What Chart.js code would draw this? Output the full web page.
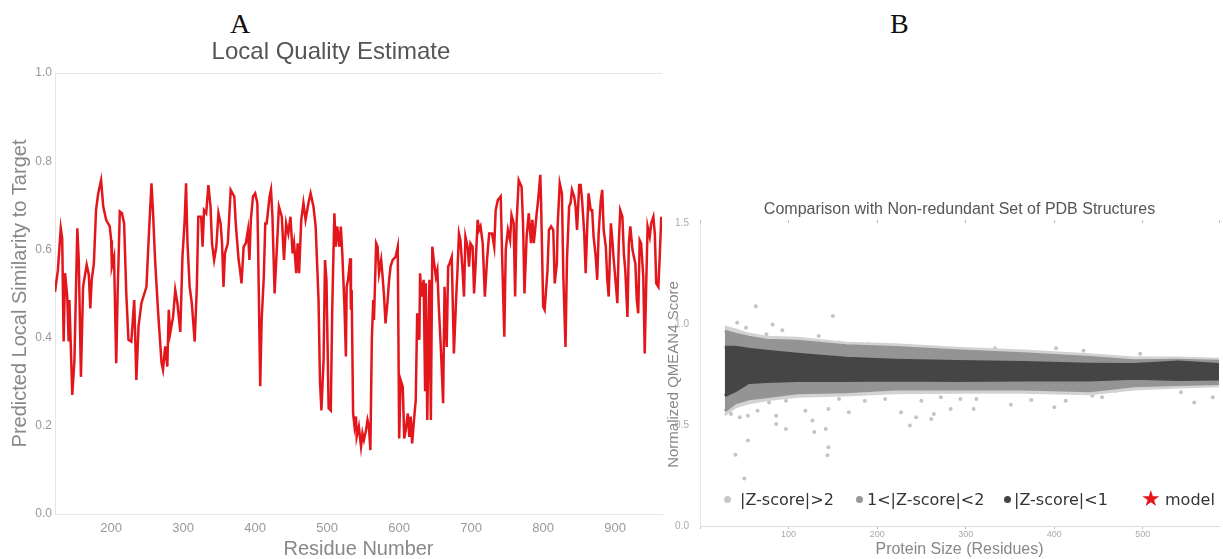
<!DOCTYPE html>
<html>
<head>
<meta charset="utf-8">
<script src="https://cdn.jsdelivr.net/npm/chart.js@4.4.1/dist/chart.umd.min.js"></script>
<style>
body{margin:0;background:#fff;width:1223px;height:559px;overflow:hidden;position:relative}
#chartA{position:absolute;left:0;top:0}
#chartB{position:absolute;left:665px;top:190px}
.panel{position:absolute;top:10px;font-family:"Liberation Serif","Times New Roman",serif;font-size:28px;line-height:28px;color:#111}
.leg{position:absolute;top:490px;font-family:"DejaVu Sans",sans-serif;font-size:16px;line-height:20px;color:#333;white-space:nowrap}
.dot{position:absolute;top:496px;width:7px;height:7px;border-radius:50%}
</style>
</head>
<body>
<div class="panel" style="left:230px">A</div>
<div class="panel" style="left:890px">B</div>
<canvas id="chartA" width="670" height="559"></canvas>
<canvas id="chartB" width="558" height="369"></canvas>

<div class="dot" style="left:724px;background:#c8c8c8"></div>
<div class="leg" style="left:740px">|Z-score|&gt;2</div>
<div class="dot" style="left:856px;background:#999"></div>
<div class="leg" style="left:867px">1&lt;|Z-score|&lt;2</div>
<div class="dot" style="left:1004px;background:#444"></div>
<div class="leg" style="left:1014px">|Z-score|&lt;1</div>
<div class="leg" style="left:1141px;top:487px;color:#e8141a;font-size:22px;line-height:24px">★</div>
<div class="leg" style="left:1165px">model</div>

<script>
// Panel A: local quality per residue
var residues = [122,126,130,132,134,136,139,141,142,146,149,153,155,158,161,166,169,171,173,176,179,182,186,189,193,198,200,201,204,207,209,212,215,218,221,224,228,232,235,238,242,249,252,256,258,261,265,270,272,275,278,280,282,286,289,292,296,299,302,304,306,309,312,316,319,321,
  325,327,329,332,335,338,340,343,346,349,352,354,356,358,362,364,366,371,373,377,379,381,384,387,390,392,394,397,400,403,404,407,409,412,414,416,420,422,424,427,430,433,437,440,443,446,449,452,454,457,459,461,464,467,470,474,477,481,484,488,490,492,495,497,499,502,505,507,510,512,514,517,
  519,521,524,526,527,529,532,533,534,536,538,540,541,544,547,549,551,554,556,558,560,562,564,565,568,570,572,575,577,579,581,584,586,588,591,595,598,600,602,605,607,609,612,614,616,618,621,623,625,628,629,631,634,636,637,639,642,644,646,648,651,653,655,658,661,663,666,668,670,673,676,679,681,683,685,688,690,692,695,697,699,702,704,706,709,711,713,716,719,722,725,729,732,734,737,
  741,743,746,748,751,754,756,759,761,763,766,770,772,774,777,780,783,785,787,791,793,796,797,800,802,806,808,811,814,816,819,820,823,826,828,831,833,836,838,840,843,845,847,850,852,854,857,859,861,863,866,868,870,873,875,877,880,882,884,887,889,891,894,896,898,900,903,905,907,910,912,914,917,919,921,924,926,928,930,932,934,936,939,941,943,945,948,950,953,955,957,960,962,964];
var scores = [0.504,0.553,0.648,0.625,0.391,0.546,0.493,0.391,0.485,0.27,0.349,0.648,0.576,0.311,0.515,0.565,0.542,0.466,0.531,0.568,0.689,0.727,0.757,0.697,0.667,0.652,0.621,0.561,0.583,0.342,0.5,0.686,0.682,0.659,0.5,0.395,0.391,0.485,0.304,0.425,0.478,0.515,0.621,0.75,0.689,0.576,0.463,0.342,0.327,0.38,0.334,0.463,0.41,0.447,0.508,0.478,0.413,0.583,0.663,0.75,0.614,0.515,0.478,0.391,0.515,0.674,
  0.674,0.606,0.689,0.682,0.746,0.697,0.614,0.576,0.606,0.682,0.659,0.614,0.515,0.591,0.614,0.674,0.735,0.72,0.659,0.576,0.553,0.523,0.606,0.614,0.644,0.576,0.667,0.72,0.727,0.705,0.614,0.29,0.44,0.538,0.659,0.659,0.72,0.735,0.674,0.5,0.599,0.697,0.674,0.576,0.659,0.636,0.674,0.591,0.614,0.546,0.614,0.546,0.667,0.705,0.667,0.705,0.727,0.697,0.652,0.485,0.3,0.235,0.349,0.576,0.531,0.24,0.235,0.463,0.682,0.606,0.652,0.606,
  0.652,0.591,0.47,0.357,0.515,0.531,0.58,0.463,0.508,0.228,0.198,0.221,0.175,0.198,0.153,0.183,0.168,0.19,0.213,0.198,0.145,0.395,0.485,0.44,0.614,0.606,0.546,0.576,0.538,0.493,0.432,0.485,0.531,0.561,0.576,0.583,0.606,0.171,0.304,0.288,0.171,0.19,0.228,0.175,0.221,0.16,0.221,0.258,0.455,0.395,0.546,0.493,0.531,0.281,0.523,0.213,0.531,0.213,0.606,0.576,0.538,0.553,0.47,0.372,0.251,0.515,0.379,0.561,0.568,0.583,0.364,0.485,0.553,0.636,0.621,0.553,0.493,0.629,0.606,0.561,0.614,0.606,0.5,0.561,0.667,0.644,0.652,0.614,0.493,0.576,0.636,0.636,0.606,0.689,0.712,
  0.72,0.583,0.402,0.599,0.644,0.621,0.678,0.659,0.493,0.659,0.757,0.742,0.659,0.5,0.629,0.682,0.614,0.667,0.614,0.682,0.712,0.769,0.712,0.47,0.463,0.553,0.644,0.652,0.644,0.523,0.568,0.652,0.75,0.727,0.538,0.379,0.576,0.697,0.705,0.735,0.72,0.697,0.644,0.746,0.746,0.712,0.636,0.546,0.644,0.727,0.689,0.689,0.629,0.583,0.531,0.636,0.712,0.735,0.644,0.606,0.531,0.493,0.659,0.621,0.576,0.538,0.478,0.614,0.689,0.674,0.591,0.553,0.447,0.614,0.652,0.599,0.583,0.568,0.485,0.455,0.621,0.614,0.538,0.364,0.515,0.652,0.629,0.659,0.674,0.636,0.523,0.515,0.591,0.674];

// Panel B: reference set bands (upper/lower edges of each Z-score group) and outliers
var bandSize   = [28, 40, 55, 75, 110, 165, 220, 290, 365, 440, 490, 540, 586];
var lightTop   = [0.985, 0.97, 0.95, 0.935, 0.93, 0.905, 0.897, 0.88, 0.866, 0.848, 0.832, 0.832, 0.826];
var lightBot   = [0.55, 0.59, 0.61, 0.625, 0.642, 0.648, 0.66, 0.662, 0.662, 0.655, 0.678, 0.688, 0.694];
var midTop     = [0.965, 0.95, 0.935, 0.92, 0.915, 0.892, 0.884, 0.867, 0.853, 0.834, 0.818, 0.82, 0.815];
var midBot     = [0.57, 0.61, 0.63, 0.64, 0.66, 0.665, 0.678, 0.678, 0.678, 0.67, 0.694, 0.70, 0.705];
var darkTop    = [0.885, 0.885, 0.875, 0.865, 0.85, 0.83, 0.82, 0.814, 0.809, 0.801, 0.80, 0.812, 0.80];
var darkBot    = [0.645, 0.67, 0.71, 0.715, 0.72, 0.72, 0.723, 0.72, 0.723, 0.723, 0.732, 0.725, 0.728];
var outSize  = [63,150,42,52,82,93,75,134,37,108,157,190,235,280,54,86,86,97,119,127,129,145,142,145,144,54,40,50,35,45,65,78,97,157,168,186,209,227,237,244,261,264,283,250,272,333,402,433,497,309,351,400,454,558,579,294,312,374,413,443,543,469,320,350];
var outScore = [1.088,1.039,1.006,0.982,0.998,0.969,0.949,0.941,0.941,0.90,0.908,0.90,0.892,0.875,0.546,0.546,0.505,0.48,0.571,0.522,0.465,0.579,0.48,0.39,0.35,0.423,0.353,0.235,0.555,0.538,0.571,0.612,0.62,0.629,0.563,0.62,0.629,0.563,0.497,0.538,0.53,0.555,0.579,0.62,0.637,0.88,0.88,0.867,0.853,0.579,0.60,0.588,0.637,0.612,0.637,0.629,0.629,0.624,0.62,0.645,0.662,0.67,0.87,0.865];

Chart.defaults.font.family = "'Liberation Sans', Arial, sans-serif";

function pairs(xs, ys) {
    return xs.map(function (x, i) { return {x: x, y: ys[i]}; });
}

var ctxA = document.getElementById('chartA').getContext('2d');
var chartA = new Chart(ctxA, {
    type: 'line',
    data: {
        datasets: [{
            data: pairs(residues, scores),
            borderColor: '#e3161c',
            borderWidth: 2.5,
            pointRadius: 0,
            tension: 0
        }]
    },
    options: {
        responsive: false,
        animation: false,
        layout: {padding: {right: 8}},
        plugins: {
            legend: {display: false},
            tooltip: {enabled: false},
            title: {display: true, text: 'Local Quality Estimate', color: '#555',
                    font: {size: 24, weight: 'normal'}, padding: {top: 37.6, bottom: 6.6}}
        },
        scales: {
            x: {
                type: 'linear', min: 122, max: 965,
                afterFit: function (s) { s.height = 45; },
                ticks: {stepSize: 100, includeBounds: false, color: '#999', font: {size: 13}, padding: 7, maxRotation: 0},
                grid: {display: false, drawTicks: false},
                border: {color: '#e6e6e6'},
                title: {display: true, text: 'Residue Number', color: '#888', font: {size: 20, lineHeight: 1}, padding: 0}
            },
            y: {
                min: 0, max: 1,
                afterFit: function (s) { s.width = 55; },
                ticks: {stepSize: 0.2, color: '#999', font: {size: 12}, padding: 3,
                        callback: function (v) { return v.toFixed(1); }},
                grid: {drawTicks: false, color: function (c) { return (c.tick && c.tick.value === 1) ? '#e6e6e6' : 'transparent'; }},
                border: {color: '#e6e6e6'},
                title: {display: true, text: 'Predicted Local Similarity to Target', color: '#888',
                        font: {size: 20, lineHeight: 1}, padding: {top: 10}}
            }
        }
    }
});

// band edge dataset, filled down to the previous one when fillPrev is set
function band(xs, ys, color, fillPrev, order) {
    return {
        data: pairs(xs, ys), showLine: true, borderColor: color, backgroundColor: color,
        borderWidth: 3, pointRadius: 0, tension: 0, fill: fillPrev ? '-1' : false, order: order
    };
}

var ctxB = document.getElementById('chartB').getContext('2d');
var chartB = new Chart(ctxB, {
    type: 'scatter',
    data: {
        datasets: [
            band(bandSize, lightTop, '#d2d2d2', false, 3),
            band(bandSize, lightBot, '#d2d2d2', true, 3),
            band(bandSize, midTop, '#949494', false, 2),
            band(bandSize, midBot, '#949494', true, 2),
            band(bandSize, darkTop, '#454545', false, 1),
            band(bandSize, darkBot, '#454545', true, 1),
            {data: pairs(outSize, outScore), backgroundColor: '#c4c4c4', borderWidth: 0, pointRadius: 2, order: 4}
        ]
    },
    options: {
        responsive: false,
        animation: false,
        plugins: {
            legend: {display: false},
            tooltip: {enabled: false},
            title: {display: true, fullSize: false, text: 'Comparison with Non-redundant Set of PDB Structures',
                    color: '#555', font: {size: 16, weight: 'normal'}, padding: {top: 10.4, bottom: 0}}
        },
        scales: {
            x: {
                type: 'linear', min: 0, max: 586,
                afterFit: function (s) { s.height = 33; },
                ticks: {stepSize: 100, includeBounds: false, color: '#aaa', font: {size: 9}, padding: 0, maxRotation: 0,
                        callback: function (v) { return v === 0 ? '' : v; }},
                grid: {drawOnChartArea: false, tickLength: 3, color: '#bbb'},
                border: {color: '#ddd'},
                title: {display: true, text: 'Protein Size (Residues)', color: '#888', font: {size: 16, lineHeight: 1}, padding: {top: 0, bottom: 1}}
            },
            xTop: {
                type: 'linear', position: 'top', min: 0, max: 586,
                afterFit: function (s) { s.height = 3.4; },
                ticks: {stepSize: 100, display: false},
                grid: {drawOnChartArea: false, tickLength: 3, color: '#bbb'},
                border: {display: false}
            },
            y: {
                min: 0, max: 1.5,
                afterFit: function (s) { s.width = 35; },
                ticks: {stepSize: 0.5, color: '#aaa', font: {size: 10}, padding: 3,
                        callback: function (v) { return v.toFixed(1); }},
                grid: {display: false},
                border: {color: '#e6e6e6'},
                title: {display: true, text: 'Normalized QMEAN4 Score', color: '#888', font: {size: 15, lineHeight: 1}, padding: {top: 1}}
            }
        }
    }
});
</script>
</body>
</html>
